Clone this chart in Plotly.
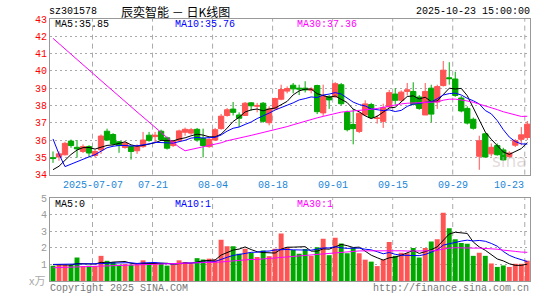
import plotly.graph_objects as go
import pandas as pd

# ---------------- data ----------------
dates = [
    "2025-06-26", "2025-06-27", "2025-06-30",
    "2025-07-01", "2025-07-02", "2025-07-03", "2025-07-04", "2025-07-07", "2025-07-08", "2025-07-09",
    "2025-07-10", "2025-07-11", "2025-07-14", "2025-07-15", "2025-07-16", "2025-07-17", "2025-07-18",
    "2025-07-21", "2025-07-22", "2025-07-23", "2025-07-24", "2025-07-25", "2025-07-28", "2025-07-29",
    "2025-07-30", "2025-07-31",
    "2025-08-01", "2025-08-04", "2025-08-05", "2025-08-06", "2025-08-07", "2025-08-08", "2025-08-11",
    "2025-08-12", "2025-08-13", "2025-08-14", "2025-08-15", "2025-08-18", "2025-08-19", "2025-08-20",
    "2025-08-21", "2025-08-22", "2025-08-25", "2025-08-26", "2025-08-27", "2025-08-28", "2025-08-29",
    "2025-09-01", "2025-09-02", "2025-09-03", "2025-09-04", "2025-09-05", "2025-09-08", "2025-09-09",
    "2025-09-10", "2025-09-11", "2025-09-12", "2025-09-15", "2025-09-16", "2025-09-17", "2025-09-18",
    "2025-09-19", "2025-09-22", "2025-09-23", "2025-09-24", "2025-09-25", "2025-09-26", "2025-09-29",
    "2025-09-30",
    "2025-10-09", "2025-10-10", "2025-10-13", "2025-10-14", "2025-10-15", "2025-10-16", "2025-10-17",
    "2025-10-20", "2025-10-21", "2025-10-22", "2025-10-23",
]

opens = [34.98, 35.02, 35.15, 35.94, 35.58, 35.34, 35.62, 35.11, 35.43, 36.51,
         36.32, 35.90, 35.57, 35.62, 35.38, 35.62, 36.28, 36.20, 36.51, 36.13,
         35.68, 35.96, 36.45, 36.40, 36.62, 36.09, 35.62, 36.00, 36.66, 37.42,
         37.79, 37.45, 37.42, 38.15, 37.95, 38.13, 37.00, 37.80, 38.36, 38.83,
         39.17, 39.00, 39.00, 38.88, 39.15, 37.57, 38.50, 38.50, 39.20, 37.60,
         36.90, 36.50, 37.45, 38.05, 37.25, 37.08, 37.92, 38.66, 38.30, 38.81,
         38.81, 38.49, 37.45, 39.00, 38.20, 39.15, 39.60, 39.53, 38.43, 37.83,
         37.20, 35.06, 36.36, 35.20, 35.68, 35.43, 35.05, 35.70, 36.04, 36.15]
highs = [35.34, 35.35, 35.90, 36.03, 36.00, 35.75, 35.70, 35.45, 36.32, 36.66,
         36.40, 35.95, 35.92, 35.68, 35.75, 36.47, 36.47, 36.47, 36.60, 36.20,
         36.00, 36.60, 36.72, 36.70, 36.70, 36.66, 36.10, 36.70, 37.51, 37.85,
         38.20, 37.60, 38.20, 38.20, 38.15, 38.20, 37.95, 38.45, 39.20, 39.10,
         39.30, 39.20, 39.40, 39.05, 39.20, 39.20, 38.60, 39.35, 39.30, 37.70,
         37.80, 37.60, 38.30, 38.15, 37.45, 38.10, 38.90, 39.00, 38.87, 39.30,
         39.34, 38.60, 39.30, 39.20, 39.20, 40.57, 40.50, 39.95, 38.55, 37.95,
         37.30, 36.25, 36.42, 35.80, 35.80, 35.55, 35.35, 36.05, 36.75, 37.10]
lows = [34.68, 34.80, 35.10, 35.55, 34.98, 35.25, 35.00, 35.00, 35.20, 35.95,
        35.68, 35.26, 35.50, 34.87, 35.20, 35.55, 35.90, 35.85, 35.95, 35.45,
        35.60, 35.90, 36.25, 36.30, 35.90, 35.00, 35.55, 35.95, 36.60, 37.35,
        37.42, 36.75, 37.40, 37.70, 37.60, 37.00, 36.85, 37.75, 38.30, 38.70,
        38.70, 38.60, 38.75, 38.70, 37.50, 37.40, 37.80, 38.45, 38.00, 36.50,
        35.75, 36.40, 37.40, 37.25, 36.95, 36.70, 37.85, 38.05, 38.20, 38.58,
        38.00, 37.75, 37.45, 37.03, 37.80, 39.10, 39.20, 38.50, 37.60, 36.90,
        36.60, 34.28, 35.00, 35.05, 35.10, 34.80, 34.95, 35.60, 35.70, 36.00]
closes = [34.93, 35.20, 35.81, 35.68, 35.49, 35.62, 35.25, 35.34, 36.23, 36.00,
          35.77, 35.68, 35.81, 35.34, 35.62, 36.00, 35.98, 36.28, 36.02, 35.53,
          35.94, 36.53, 36.62, 36.60, 36.00, 35.68, 36.04, 36.60, 37.38, 37.75,
          37.60, 37.26, 38.13, 37.98, 38.00, 37.08, 37.80, 38.40, 38.92, 38.98,
          38.96, 38.95, 38.90, 38.95, 37.64, 38.55, 38.32, 39.26, 38.10, 36.60,
          36.66, 37.55, 38.09, 37.30, 37.27, 37.87, 38.74, 38.30, 38.77, 38.91,
          38.06, 37.83, 38.81, 37.50, 39.09, 40.04, 39.55, 38.58, 37.68, 36.98,
          36.68, 35.96, 35.02, 35.58, 35.15, 34.85, 35.25, 35.97, 36.30, 36.92]
# volume (万手)
volumes = [0.92, 0.98, 0.97, 0.98, 1.42, 0.90, 0.92, 0.90, 1.52, 1.22,
           1.15, 0.98, 1.02, 0.98, 1.00, 1.25, 1.05, 1.03, 1.10, 0.93,
           0.98, 1.25, 1.15, 1.02, 1.38, 1.30, 1.35, 1.30, 2.50, 2.10,
           2.10, 1.65, 1.95, 1.70, 1.45, 1.85, 1.50, 1.95, 2.87, 2.04,
           1.87, 1.65, 1.94, 1.52, 2.04, 2.56, 1.56, 2.62, 2.27, 1.67,
           2.00, 1.67, 1.29, 1.17, 0.90, 1.29, 2.35, 1.52, 1.71, 1.67,
           2.00, 1.42, 2.00, 2.38, 2.52, 4.12, 3.19, 2.52, 2.29, 2.25,
           1.52, 1.71, 1.52, 1.06, 0.85, 0.94, 0.85, 1.04, 1.04, 1.23]

# 29 sessions before the first shown day (only used for the moving averages)
prior_closes = [44.5, 45.2, 44.9, 44.3, 44.6, 45.0, 45.3, 44.8, 44.4, 44.7, 45.1,
                44.9, 44.6, 44.2, 44.8, 45.4, 45.0, 44.7, 44.5, 44.9, 44.0, 43.0,
                34.3, 34.0, 33.9, 34.2, 34.1, 34.0, 34.2]
prior_volumes = [0.65, 0.72, 0.70, 0.68, 0.75, 0.70, 0.66, 0.72, 0.74, 0.69,
                 0.70, 0.71, 0.68, 0.73, 0.70, 0.67, 0.72, 0.70, 0.69, 0.70,
                 0.95, 1.05, 0.98, 1.10, 1.00, 0.96, 1.02, 1.08, 0.97]

tick_dates = ["2025-07-07", "2025-07-21", "2025-08-04", "2025-08-18",
              "2025-09-01", "2025-09-15", "2025-09-29", "2025-10-23"]
tick_texts = ["2025-07-07", "07-21", "08-04", "08-18", "09-01", "09-15", "09-29", "10-23"]

main_ticks = [34, 35, 36, 37, 38, 39, 40, 41, 42, 43]
vol_ticks = [1, 2, 3, 4, 5]

code = "sz301578"
title = "辰奕智能 － 日K线图"
stamp = "2025-10-23 15:00:00"
main_ma_text = ["MA5:35.85", "MA10:35.76", "MA30:37.36"]
vol_ma_text = ["MA5:0", "MA10:1", "MA30:1"]

# ---------------- styles ----------------
RED = "#ff5454"
GREEN = "#00a800"
MA_COLORS = ["#000000", "#0000ff", "#ff00ff"]
MONO = "Liberation Mono, DejaVu Sans Mono, monospace"
CJK = "Noto Sans CJK SC, Noto Sans, sans-serif"
GRID = "#aaaaaa"
FRAME = "#999999"

W, H = 545, 300
L, R, T, B = 50, 530, 19, 285
MAIN_BOTTOM, VOL_TOP = 177, 201

n = len(dates)
s_close = pd.Series(prior_closes + closes)
s_vol = pd.Series(prior_volumes + volumes)
k0 = len(prior_closes)
ma_close = [s_close.rolling(w).mean().iloc[k0:].tolist() for w in (5, 10, 30)]
ma_vol = [s_vol.rolling(w).mean().iloc[k0:].tolist() for w in (5, 10, 30)]

fig = go.Figure()

fig.add_trace(go.Candlestick(
    x=dates, open=opens, high=highs, low=lows, close=closes,
    xaxis="x", yaxis="y",
    increasing=dict(line=dict(color=RED, width=1), fillcolor=RED),
    decreasing=dict(line=dict(color=GREEN, width=1), fillcolor=GREEN),
    whiskerwidth=0, showlegend=False, hoverinfo="skip",
))
for ma, col in zip(ma_close, MA_COLORS):
    fig.add_trace(go.Scatter(x=dates, y=ma, mode="lines", line=dict(color=col, width=1),
                             xaxis="x", yaxis="y", showlegend=False, hoverinfo="skip"))

vol_colors = [RED if c >= o else GREEN for o, c in zip(opens, closes)]
fig.add_trace(go.Bar(x=dates, y=volumes, marker=dict(color=vol_colors, line=dict(width=0)),
                     width=0.82, xaxis="x2", yaxis="y2", showlegend=False, hoverinfo="skip"))
for ma, col in zip(ma_vol, MA_COLORS):
    fig.add_trace(go.Scatter(x=dates, y=ma, mode="lines", line=dict(color=col, width=1),
                             xaxis="x2", yaxis="y2", showlegend=False, hoverinfo="skip"))

plot_h = B - T
dom_main = [(B - MAIN_BOTTOM) / plot_h, 1]
dom_vol = [0, (B - VOL_TOP) / plot_h]
xr = [-0.5, n - 1 + 0.45]

xcommon = dict(type="category", range=xr, showticklabels=False, showgrid=False,
               zeroline=False, showline=True, mirror=True, linecolor=FRAME, linewidth=1,
               ticks="", rangeslider=dict(visible=False), fixedrange=True)

fig.update_layout(
    width=W, height=H,
    margin=dict(l=L, r=W - R, t=T, b=H - B, pad=0),
    paper_bgcolor="white", plot_bgcolor="white",
    showlegend=False, hovermode=False,
    boxgap=0.12, boxgroupgap=0.0,
    xaxis=dict(anchor="y", domain=[0, 1], **xcommon),
    xaxis2=dict(anchor="y2", domain=[0, 1], matches="x", **xcommon),
    yaxis=dict(anchor="x", domain=dom_main, range=[34, 43], tickvals=main_ticks,
               showgrid=True, gridcolor=GRID, griddash="2px,3px", gridwidth=1,
               zeroline=False, showline=True, mirror=True, linecolor=FRAME, linewidth=1,
               ticks="", tickfont=dict(family=MONO, size=10, color="#ff0000"), fixedrange=True),
    yaxis2=dict(anchor="x2", domain=dom_vol, range=[0, 5], tickvals=vol_ticks,
                showgrid=True, gridcolor=GRID, griddash="2px,3px", gridwidth=1,
                zeroline=False, showline=True, mirror=True, linecolor=FRAME, linewidth=1,
                ticks="", tickfont=dict(family=MONO, size=10, color="#999999"), fixedrange=True),
)

# vertical dashed grid lines at the labelled dates
shapes = []
for d in tick_dates:
    xi = dates.index(d) - 0.42
    for yref in ("y domain", "y2 domain"):
        shapes.append(dict(type="line", xref="x", yref=yref, x0=xi, x1=xi, y0=0, y1=1,
                           line=dict(color=GRID, width=1, dash="5px,4px"), layer="below"))
fig.update_layout(shapes=shapes)


def px(x):
    return (x - L) / (R - L)


def py(y):
    return (B - y) / plot_h


def note(text, x, y, xanchor="left", color="#000000", size=10, family=MONO):
    fig.add_annotation(text=text, xref="paper", yref="paper", x=px(x), y=py(y),
                       xanchor=xanchor, yanchor="middle", showarrow=False,
                       font=dict(family=family, size=size, color=color), borderpad=0)


note(code, 48, 11)
note(title, 120, 11, family=CJK, size=12)
note(stamp, 531, 11, xanchor="right")
for t, xx, col in zip(main_ma_text, (54, 174, 296), MA_COLORS):
    note(t, xx, 25, color=col)
for t, xx, col in zip(vol_ma_text, (54, 174, 296), MA_COLORS):
    note(t, xx, 207, color=col)

for d, t in zip(tick_dates, tick_texts):
    xi = dates.index(d) - 0.42
    anchor = "right" if d == dates[-1] else "center"
    fig.add_annotation(text=t, xref="x", yref="paper", x=xi, y=py(188), xanchor=anchor,
                       yanchor="middle", showarrow=False, borderpad=0,
                       font=dict(family=MONO, size=10, color="#1a86d8"))

note("sina", 528, 163, xanchor="right", color="rgba(205,190,190,0.55)", size=17,
     family="DejaVu Sans, sans-serif")
note("x万", 37, 284, xanchor="center", color="#aaaaaa", size=11, family=CJK)
note("Copyright 2025 SINA.COM", 49, 293, color="#777777")
note("http://finance.sina.com.cn", 530, 293, xanchor="right", color="#777777")

fig.write_html("out.html")
